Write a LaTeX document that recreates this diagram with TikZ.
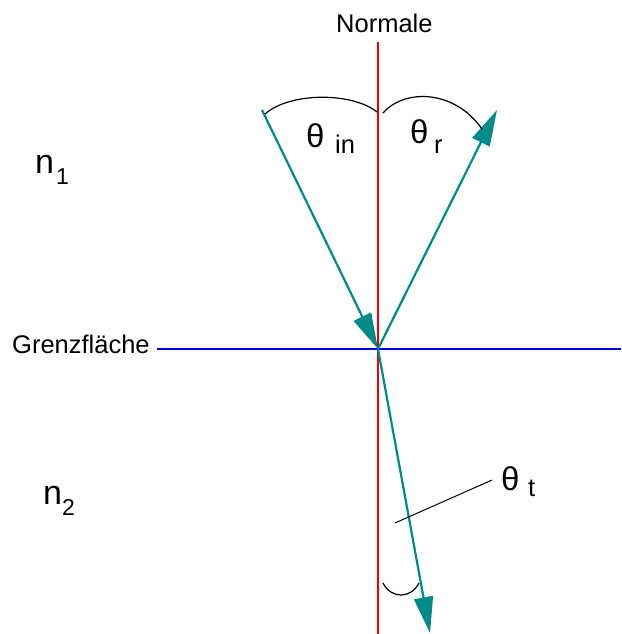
\documentclass[tikz,border=0pt]{standalone}
\usepackage{fontspec}
\setmainfont{Liberation Sans}
\usetikzlibrary{arrows.meta}
\definecolor{raycol}{RGB}{0,139,139}
\definecolor{normcol}{RGB}{240,0,0}
\definecolor{ifcol}{RGB}{0,0,230}
\begin{document}
\begin{tikzpicture}[x=1pt,y=-1pt,
  ray/.style={draw=raycol, line width=2.2pt, -{Triangle[length=36pt,width=19pt]}},
  arcline/.style={draw=black, line width=1.2pt},
  lbl/.style={inner sep=0pt, anchor=base west, font=\fontsize{25.5}{30}\selectfont},
  big/.style={inner sep=0pt, anchor=base west, font=\fontsize{33}{38}\selectfont},
  nsym/.style={inner sep=0pt, anchor=base west, font=\fontsize{34}{40}\selectfont},
  nsub/.style={inner sep=0pt, anchor=base west, font=\fontsize{23}{27}\selectfont}]
\useasboundingbox (0,0) rectangle (621,634);
% key points
\coordinate (O) at (378,349);
\coordinate (ntop) at (378,42);
\coordinate (nbot) at (378,634);
\coordinate (gl) at (157,349);
\coordinate (gr) at (621,349);
\coordinate (inc) at (262,110);
\coordinate (refl) at (497,110);
\coordinate (trans) at (430,633);
\coordinate (tA) at (395,523);
\coordinate (tB) at (492,480);
% arcs end points
\coordinate (a1) at (265,114);
\coordinate (a2) at (377,112);
\coordinate (b1) at (383,113);
\coordinate (b2) at (482,129);
\coordinate (c1) at (383,583);
\coordinate (c2) at (419,583);
% lines
\draw[ifcol, line width=2.2pt] (gl) -- (gr);
\draw[normcol, line width=2.2pt] (ntop) -- (nbot);
\draw[ray] (inc) -- (O);
\draw[ray] (O) -- (refl);
\draw[ray] (O) -- (trans);
% angle arcs
\draw[arcline] (a1) .. controls (290,92) and (352,92) .. (a2);
\draw[arcline] (b1) .. controls (405,88) and (455,90) .. (b2);
\draw[arcline] (c1) .. controls (391,599) and (411,599) .. (c2);
\draw[black, line width=1pt] (tA) -- (tB);
% labels
\node[lbl] (normale) at (336,33) {Normale};
\node[lbl] (grenz) at (12,353) {Grenzfläche};
\node[nsym] (n1) at (35,173) {n};
\node[nsub] (n1s) at (56,184) {1};
\node[nsym] (n2) at (43,504) {n};
\node[nsub] (n2s) at (62,515) {2};
\node[big] (thin) at (306,147) {θ};
\node[lbl] (thins) at (335,153) {in};
\node[big] (thr) at (410,143) {θ};
\node[lbl] (thrs) at (434,153) {r};
\node[big] (tht) at (501,490) {θ};
\node[lbl] (thts) at (528,496) {t};
\end{tikzpicture}
\end{document}
